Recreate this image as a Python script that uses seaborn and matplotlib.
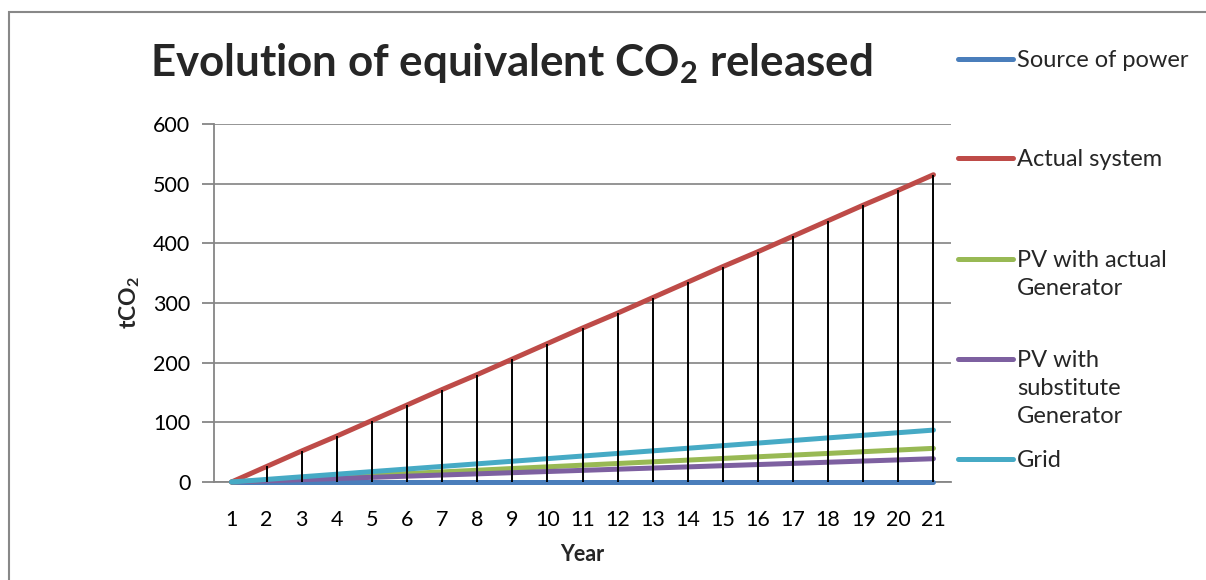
import numpy as np
import pandas as pd
import matplotlib
matplotlib.use("Agg")
import matplotlib.pyplot as plt
import seaborn as sns
from matplotlib.lines import Line2D
from matplotlib.patches import Rectangle

years = list(range(1, 22))
source_of_power = [0] * 21
actual_system = [0, 26, 52, 77, 103, 129, 155, 180, 206, 232, 258, 283, 309, 335,
                 361, 386, 412, 438, 464, 489, 515]
pv_actual_gen = [0, 2.8, 5.6, 8.5, 11.3, 14.1, 16.9, 19.7, 22.6, 25.4, 28.2, 31.0,
                 33.8, 36.7, 39.5, 42.3, 45.1, 47.9, 50.8, 53.6, 56.4]
pv_subst_gen = [0, 1.95, 3.9, 5.85, 7.8, 9.75, 11.7, 13.65, 15.6, 17.55, 19.5,
                21.45, 23.4, 25.35, 27.3, 29.25, 31.2, 33.15, 35.1, 37.05, 39]
grid = [0, 4.35, 8.7, 13.05, 17.4, 21.75, 26.1, 30.45, 34.8, 39.15, 43.5, 47.85,
        52.2, 56.55, 60.9, 65.25, 69.6, 73.95, 78.3, 82.65, 87]

series_names = ["Source of power", "Actual system", "PV with actual\nGenerator",
                "PV with\nsubstitute\nGenerator", "Grid"]
series_values = [source_of_power, actual_system, pv_actual_gen, pv_subst_gen, grid]
colors = ["#4A7EBB", "#BE4B48", "#98B954", "#7D60A0", "#46AAC5"]
y_ticks = [0, 100, 200, 300, 400, 500, 600]

rows = []
for name, vals in zip(series_names, series_values):
    for yr, v in zip(years, vals):
        rows.append({"Year": yr, "value": v, "series": name})
df = pd.DataFrame(rows)

sns.set_theme(style="white")
plt.rcParams["font.family"] = ["Lato", "DejaVu Sans"]
plt.rcParams["mathtext.fontset"] = "custom"
plt.rcParams["mathtext.rm"] = "Lato"
plt.rcParams["mathtext.bf"] = "Lato:bold"

FS = 15.5
LFS = 17

fig = plt.figure(figsize=(12.06, 5.8), dpi=100)
ax = fig.add_axes([214 / 1206, 98 / 580, (951 - 214) / 1206, (482 - 124) / 580])

# outer chart border
fig.patches.append(Rectangle((9 / 1206, -0.1), 1.2, (580 - 12) / 580 + 0.1,
                             transform=fig.transFigure, fill=False,
                             edgecolor="#888888", linewidth=1.5, zorder=0))

sns.lineplot(data=df, x="Year", y="value", hue="series", hue_order=series_names,
             palette=colors, linewidth=3.6, ax=ax, legend=False,
             solid_capstyle="round", zorder=3)
for ln in ax.lines:
    ln.set_clip_on(False)

# drop lines (from max value of each category to axis)
max_vals = np.max(np.array(series_values), axis=0)
ax.vlines(years, 0, max_vals, color="black", linewidth=1.4, zorder=5)

ax.set_xlim(0.5, 21.5)
ax.set_ylim(0, 600)
ax.set_xticks(years)
ax.set_xticklabels([str(y) for y in years], fontsize=FS)
ax.set_yticks(y_ticks)
ax.set_yticklabels([str(v) for v in y_ticks], fontsize=FS)
ax.yaxis.grid(True, color="#8c8c8c", linewidth=1.3)
ax.set_axisbelow(True)
for s in ["top", "right"]:
    ax.spines[s].set_visible(False)
for s in ["left", "bottom"]:
    ax.spines[s].set_color("#868686")
    ax.spines[s].set_linewidth(1.3)
ax.tick_params(axis="y", which="both", left=True, length=9, width=1.3,
               color="#868686", pad=8, labelcolor="black")
ax.tick_params(axis="x", which="both", bottom=False, pad=14, labelcolor="black")
ax.set_xlabel("Year", fontsize=FS, fontweight="bold", labelpad=10)
ax.set_ylabel("")

fig.text(130 / 1206, 1 - 303 / 580, "tCO$_\\mathbf{2}$", rotation=90,
         fontsize=FS + 1, fontweight="bold", va="center", ha="center")

fig.text(150 / 1206, 1 - 64 / 580, "Evolution of equivalent CO$_\\mathbf{2}$ released",
         fontsize=31.6, fontweight="bold", va="center", ha="left")

# legend laid out like Excel's
legend_y = [59, 158, 259, 359, 459]
for name, col, yy in zip(series_names, colors, legend_y):
    yf = 1 - yy / 580
    fig.add_artist(Line2D([958 / 1206, 1013 / 1206], [yf, yf], color=col,
                          linewidth=3.6, solid_capstyle="round",
                          transform=fig.transFigure))
    fig.text(1017 / 1206, 1 - (yy - 9) / 580, name, fontsize=LFS, va="top",
             ha="left", linespacing=1.42)

fig.savefig("out.png", dpi=100)
